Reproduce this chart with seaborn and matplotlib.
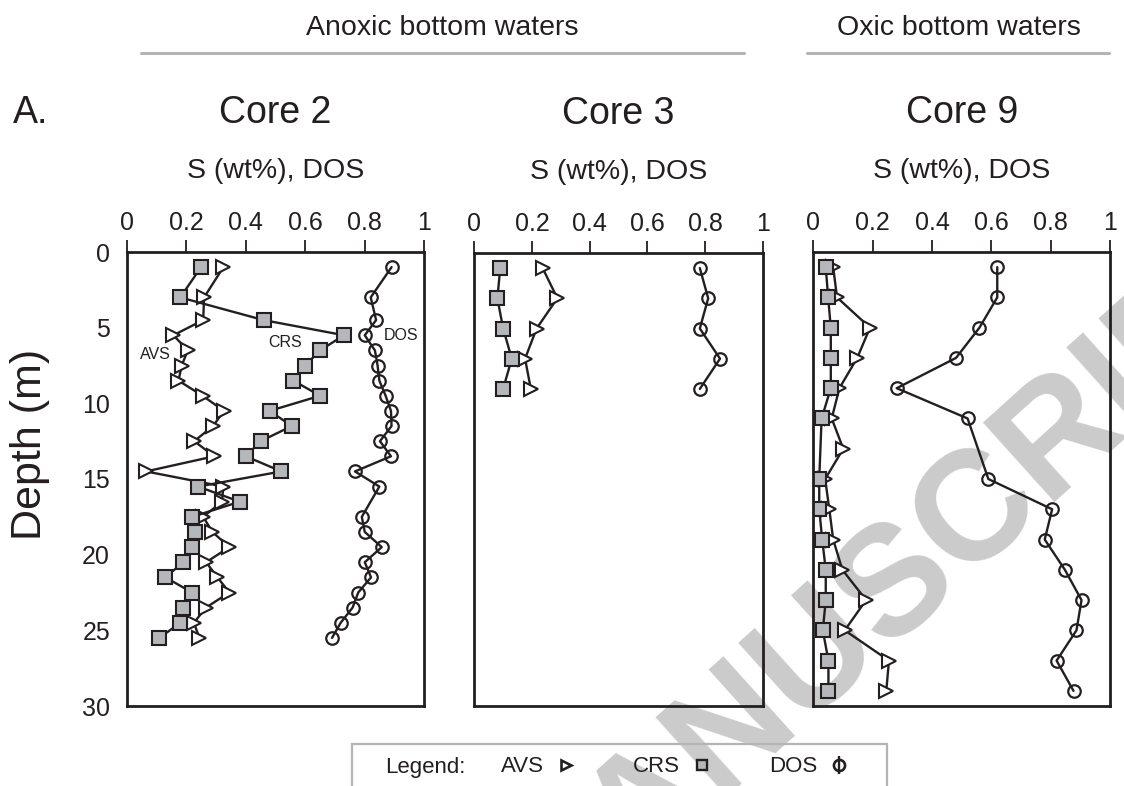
import numpy as np
import pandas as pd
import matplotlib
matplotlib.use("Agg")
import matplotlib.pyplot as plt
import seaborn as sns
from matplotlib.lines import Line2D
from matplotlib.patches import Rectangle

# ---------------------------------------------------------------- data
# Sample depths (m) and values for each core.
# AVS, CRS in S wt%; DOS is dimensionless (0-1). NaN = not measured.
core2_depth = [1, 3, 4.5, 5.5, 6.5, 7.5, 8.5, 9.5, 10.5, 11.5, 12.5, 13.5,
               14.5, 15.5, 16.5, 17.5, 18.5, 19.5, 20.5, 21.5, 22.5, 23.5,
               24.5, 25.5]
core2_avs = [0.325, 0.26, 0.257, 0.157, 0.205, 0.185, 0.174, 0.255, 0.327,
             0.29, 0.227, 0.294, 0.065, 0.325, 0.32, 0.257, 0.288, 0.345,
             0.267, 0.305, 0.345, 0.266, 0.226, 0.244]
core2_crs = [0.25, 0.18, 0.46, 0.73, 0.65, 0.60, 0.56, 0.65, 0.48, 0.555,
             0.45, 0.40, 0.52, 0.24, 0.38, 0.22, 0.23, 0.22, 0.19, 0.13,
             0.22, 0.19, 0.18, 0.11]
core2_dos = [0.89, 0.82, 0.838, 0.80, 0.834, 0.843, 0.849, 0.87, 0.888,
             0.89, 0.851, 0.888, 0.767, 0.849, np.nan, 0.79, 0.80, 0.857,
             0.80, 0.821, 0.778, 0.759, 0.719, 0.69]

core3_depth = [1, 3, 5, 7, 9]
core3_avs = [0.237, 0.288, 0.216, 0.176, 0.196]
core3_crs = [0.09, 0.08, 0.10, 0.13, 0.10]
core3_dos = [0.782, 0.811, 0.782, 0.852, 0.782]

core9_depth = [1, 3, 5, 7, 9, 11, 13, 15, 17, 19, 21, 23, 25, 27, 29]
core9_avs = [0.067, 0.08, 0.191, 0.148, 0.088, 0.062, 0.101, 0.04, 0.054,
             0.067, 0.098, 0.178, 0.106, 0.255, 0.246]
core9_crs = [0.042, 0.05, 0.059, 0.059, 0.059, 0.028, np.nan, 0.02, 0.02,
             0.03, 0.042, 0.042, 0.032, 0.051, 0.051]
core9_dos = [0.62, 0.62, 0.56, 0.481, 0.281, 0.52, np.nan, 0.59, 0.805,
             0.78, 0.848, 0.904, 0.887, 0.82, 0.877]

core_names = ["Core 2", "Core 3", "Core 9"]
series_names = ["AVS", "CRS", "DOS"]
x_ticks = [0, 0.2, 0.4, 0.6, 0.8, 1.0]
x_tick_labels = ["0", "0.2", "0.4", "0.6", "0.8", "1"]
depth_ticks = [0, 5, 10, 15, 20, 25, 30]
group_labels = ["Anoxic bottom waters", "Oxic bottom waters"]

cores = {
    "Core 2": (core2_depth, core2_avs, core2_crs, core2_dos),
    "Core 3": (core3_depth, core3_avs, core3_crs, core3_dos),
    "Core 9": (core9_depth, core9_avs, core9_crs, core9_dos),
}

rows = []
for core, (dep, avs, crs, dos) in cores.items():
    for name, vals in zip(series_names, (avs, crs, dos)):
        for d, v in zip(dep, vals):
            rows.append({"core": core, "series": name, "depth": d, "value": v})
df = pd.DataFrame(rows).dropna()

# ---------------------------------------------------------------- style
sns.set_style("white")
plt.rcParams["font.family"] = ["Liberation Sans", "DejaVu Sans"]
ink = "#231f20"
fill_gray = "#b5b7bb"
rule_gray = "#b4b4b4"

marker_styles = {
    "AVS": dict(marker=">", markersize=10, markerfacecolor="white",
                markeredgecolor=ink, markeredgewidth=1.5),
    "CRS": dict(marker="s", markersize=10.5, markerfacecolor=fill_gray,
                markeredgecolor=ink, markeredgewidth=1.5),
    "DOS": dict(marker="o", markersize=9, markerfacecolor="none",
                markeredgecolor=ink, markeredgewidth=1.6),
}

W, H = 1124, 786
fig = plt.figure(figsize=(W / 100, H / 100), dpi=100)
fig.patch.set_facecolor("white")


def axes_px(left, top, width, height):
    return fig.add_axes([left / W, 1 - (top + height) / H, width / W, height / H])


panel_boxes = {
    "Core 2": (126.7, 252, 297.6, 454),
    "Core 3": (474.3, 253, 288.4, 453),
    "Core 9": (813.3, 252, 296.7, 454),
}

axes = {}
for core in core_names:
    ax = axes_px(*panel_boxes[core])
    ax.set_facecolor("none")
    sub = df[df["core"] == core]
    for name in series_names:
        s = sub[sub["series"] == name]
        sns.lineplot(data=s, x="value", y="depth", sort=False, estimator=None,
                     errorbar=None, ax=ax, color=ink, linewidth=1.7,
                     **marker_styles[name])
    ax.set_xlim(0, 1)
    ax.set_ylim(30, 0)
    ax.set_xticks(x_ticks)
    ax.set_xticklabels(x_tick_labels)
    ax.set_yticks(depth_ticks)
    ax.xaxis.tick_top()
    ax.set_xlabel("")
    ax.set_ylabel("")
    ax.tick_params(axis="x", direction="out", length=8.5, width=1.3, pad=4,
                   labelsize=18, colors=ink)
    ax.tick_params(axis="y", direction="out", length=8.5, width=1.3, pad=3.5,
                   labelsize=18, colors=ink)
    if core != "Core 2":
        ax.tick_params(axis="y", labelleft=False)
    for sp in ax.spines.values():
        sp.set_visible(True)
        sp.set_linewidth(2.0)
        sp.set_color(ink)
    # panel title and axis quantity above the top axis
    ax.text(0.5, 1 + (252 - 122.7) / 454, core, transform=ax.transAxes,
            ha="center", va="baseline", fontsize=27, color=ink)
    ax.text(0.5, 1 + (252 - 177.5) / 454, "S (wt%), DOS", transform=ax.transAxes,
            ha="center", va="baseline", fontsize=20.5, color=ink)
    axes[core] = ax

# series names written next to the Core 2 profiles
ax2 = axes["Core 2"]
ax2.text(0.095, 6.8, "AVS", ha="center", va="center", fontsize=11.5, color=ink)
ax2.text(0.532, 5.95, "CRS", ha="center", va="center", fontsize=11.5, color=ink)
ax2.text(0.921, 5.55, "DOS", ha="center", va="center", fontsize=11.5, color=ink)

# figure-level labels
fig.text(12.5 / W, 1 - 122.7 / H, "A.", ha="left", va="baseline", fontsize=27,
         color=ink)
fig.text(30 / W, 1 - 444 / H, "Depth (m)", rotation=90, ha="center",
         va="center", fontsize=31, color=ink)

# bottom-water groupings with grey rules
fig.text(442 / W, 1 - 35 / H, group_labels[0], ha="center", va="baseline",
         fontsize=20.5, color=ink)
fig.text(959 / W, 1 - 35 / H, group_labels[1], ha="center", va="baseline",
         fontsize=20.5, color=ink)
for x0, x1 in [(141, 743.6), (806.5, 1109)]:
    fig.add_artist(Line2D([x0 / W, x1 / W], [1 - 52.7 / H] * 2,
                          transform=fig.transFigure, color=rule_gray, lw=2.2))

# key box at the bottom
fig.add_artist(Rectangle((352 / W, -0.05), (887 - 352) / W,
                         (786 - 744) / H + 0.05, transform=fig.transFigure,
                         fill=False, edgecolor=rule_gray, lw=1.6))
fig.text(385 / W, 1 - 773 / H, "Legend:", ha="left", va="baseline",
         fontsize=16, color=ink)
key_avs = Line2D([], [], ls="none", marker=">", ms=7.5, mfc="white", mec=ink,
                 mew=1.9)
key_crs = Line2D([], [], ls="none", marker="s", ms=7, mfc=fill_gray, mec=ink,
                 mew=1.7)
key_dos = (Line2D([], [], ls="none", marker="|", ms=13, mew=1.7, color=ink),
           Line2D([], [], ls="none", marker="o", ms=8, mfc="none", mec=ink,
                  mew=1.9))
fig.legend([key_avs, key_crs, key_dos], series_names, loc="center left",
           bbox_to_anchor=(501 / W, 1 - 767 / H), ncol=3, frameon=False,
           markerfirst=False, handlelength=1.0, handletextpad=0.5,
           columnspacing=2.5, fontsize=16, borderpad=0, borderaxespad=0,
           labelcolor=ink)

# manuscript watermark behind the plots
fig.text(565 / W, 1 - 889 / H, "ACCEPTED MANUSCRIPT", rotation=42,
         rotation_mode="anchor", ha="center", va="center", fontsize=112,
         fontweight="bold", color="#cbcbcb", zorder=-5)

fig.savefig("out.png", dpi=100, facecolor="white")
